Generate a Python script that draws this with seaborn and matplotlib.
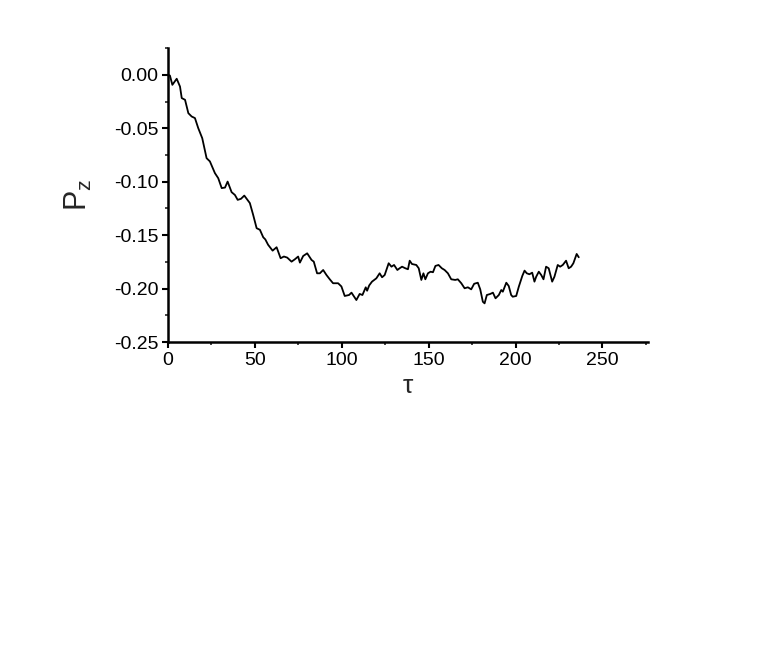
import numpy as np
import pandas as pd
import matplotlib
matplotlib.use("Agg")
import matplotlib.pyplot as plt
from matplotlib.ticker import MultipleLocator, FormatStrFormatter
import seaborn as sns

# values
tau = [0, 1.1, 2.5, 5.0, 6.9, 7.9, 9.8, 11.7, 13.6, 15.5, 17.4, 19.7, 22.2, 24.1,
       27.0, 28.9, 30.9, 32.8, 34.3, 36.6, 38.5, 40.1, 42.0, 43.9, 47.1, 49.0,
       51.0, 52.9, 54.8, 56.0, 57.6, 60.2, 62.5, 64.8, 66.7, 68.6, 71.1, 73.0,
       74.9, 75.9, 77.8, 80.1, 82.6, 83.9, 85.8, 87.4, 89.3, 91.2, 93.1, 95.0,
       97.9, 99.8, 101.7, 104.2, 105.6, 108.4, 110.3, 111.9, 113.8, 114.6, 115.8,
       117.4, 119.9, 121.8, 123.2, 124.7, 127.0, 128.6, 130.1, 132.0, 133.3,
       134.7, 136.6, 138.1, 139.1, 140.4, 142.9, 144.3, 145.8, 147.0, 148.1,
       149.6, 151.1, 152.5, 153.9, 155.7, 157.6, 159.2, 161.1, 163.0, 165.3,
       166.8, 168.8, 170.7, 172.6, 174.5, 176.2, 178.3, 179.7, 181.2, 182.2,
       183.5, 185.5, 187.0, 188.5, 190.4, 191.8, 192.7, 194.7, 196.1, 197.5,
       198.4, 200.4, 201.9, 203.9, 205.2, 206.5, 208.0, 209.6, 210.9, 211.9,
       213.4, 214.8, 216.1, 217.6, 219.1, 221.1, 222.4, 224.3, 225.7, 227.2,
       229.1, 230.6, 232.0, 233.3, 235.2, 236.4]

pz = [0.0, -0.0007, -0.0094, -0.0037, -0.011, -0.0218, -0.0234, -0.0359, -0.039,
      -0.0405, -0.0499, -0.0593, -0.078, -0.081, -0.092, -0.0967, -0.106, -0.1055,
      -0.0999, -0.1098, -0.1124, -0.117, -0.116, -0.113, -0.120, -0.131, -0.1435,
      -0.145, -0.152, -0.154, -0.159, -0.1645, -0.1613, -0.1716, -0.170, -0.171,
      -0.1748, -0.1726, -0.170, -0.1757, -0.1695, -0.167, -0.1732, -0.1748,
      -0.1857, -0.1857, -0.1826, -0.1873, -0.1913, -0.195, -0.195, -0.198,
      -0.2069, -0.206, -0.2038, -0.2107, -0.205, -0.206, -0.1988, -0.202, -0.197,
      -0.1935, -0.1904, -0.1857, -0.1894, -0.1873, -0.1763, -0.1795, -0.1779,
      -0.1826, -0.181, -0.1795, -0.181, -0.1819, -0.1739, -0.177, -0.1779,
      -0.181, -0.1919, -0.1857, -0.1913, -0.1857, -0.1842, -0.1847, -0.1788,
      -0.1779, -0.181, -0.1826, -0.1857, -0.1913, -0.1919, -0.1913, -0.195,
      -0.1997, -0.1988, -0.2007, -0.1955, -0.1945, -0.2007, -0.2123, -0.2138,
      -0.206, -0.205, -0.2038, -0.2091, -0.206, -0.2013, -0.2029, -0.1945,
      -0.1976, -0.206, -0.2076, -0.2069, -0.1982, -0.1882, -0.1832, -0.1857,
      -0.1866, -0.1851, -0.1935, -0.1889, -0.1842, -0.1873, -0.1913, -0.1795,
      -0.181, -0.1935, -0.1889, -0.1779, -0.1795, -0.1779, -0.1739, -0.181,
      -0.1795, -0.1763, -0.1676, -0.1707]

df = pd.DataFrame({"tau": tau, "pz": pz})

sns.set_style("ticks")
plt.rcParams['font.family'] = ['Liberation Sans', 'DejaVu Sans']
plt.rcParams['axes.unicode_minus'] = False
plt.rcParams['mathtext.fontset'] = 'custom'
plt.rcParams['mathtext.rm'] = 'Liberation Sans'

fig = plt.figure(figsize=(7.63, 6.54), dpi=100)
ax = fig.add_axes([0.2202, 0.477, 0.6285, 0.4495])

sns.lineplot(data=df, x="tau", y="pz", ax=ax, color="black", linewidth=1.3)

ax.set_xlim(0, 276)
ax.set_ylim(-0.25, 0.025)
ax.xaxis.set_major_locator(MultipleLocator(50))
ax.xaxis.set_minor_locator(MultipleLocator(25))
ax.yaxis.set_major_locator(MultipleLocator(0.05))
ax.yaxis.set_minor_locator(MultipleLocator(0.025))
ax.yaxis.set_major_formatter(FormatStrFormatter('%.2f'))

for side in ['top', 'right']:
    ax.spines[side].set_visible(False)
for side in ['left', 'bottom']:
    ax.spines[side].set_linewidth(1.8)
    ax.spines[side].set_color('black')

ax.tick_params(which='major', direction='out', length=4, width=1.5, labelsize=14, colors='black', pad=3)
ax.tick_params(which='minor', direction='out', length=2.5, width=1.2)

ax.set_xlabel('τ', fontsize=19, labelpad=4)
ax.set_ylabel(r'$\mathregular{P_z}$', fontsize=22, labelpad=14)

fig.savefig("out.png", dpi=100, facecolor="white")
